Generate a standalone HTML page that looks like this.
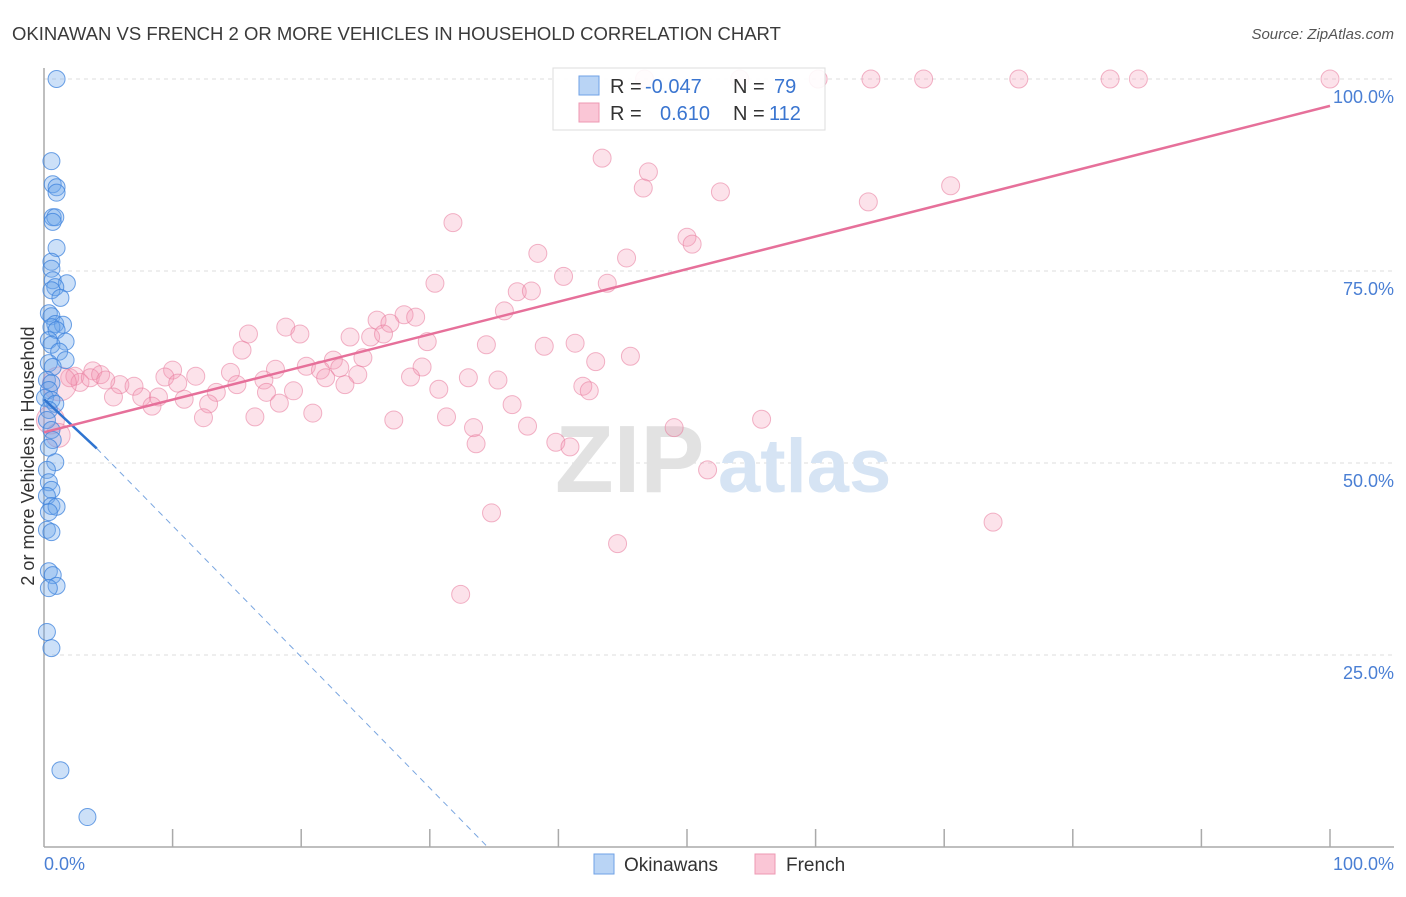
<!DOCTYPE html>
<html><head><meta charset="utf-8"><style>
body{margin:0;background:#fff;font-family:"Liberation Sans",sans-serif}
svg text{font-family:"Liberation Sans",sans-serif}
</style></head><body>
<svg id="chart" width="1406" height="892" xmlns="http://www.w3.org/2000/svg">
<text x="12" y="40" font-size="18.5" fill="#3a3a3a">OKINAWAN VS FRENCH 2 OR MORE VEHICLES IN HOUSEHOLD CORRELATION CHART</text>
<text x="1394" y="39" font-size="15" fill="#555" text-anchor="end" font-style="italic">Source: ZipAtlas.com</text>
<g id="grid"></g>
<g>
<text x="555" y="492" font-size="96" fill="#e2e2e2" font-family="Liberation Serif" font-weight="bold">ZIP</text>
<text x="718" y="492" font-size="76" fill="#d6e4f4" font-weight="bold">atlas</text>
</g>
<line x1="44" y1="68" x2="44" y2="847" stroke="#aaa" stroke-width="1.5"/>
<line x1="44" y1="847" x2="1394" y2="847" stroke="#aaa" stroke-width="1.5"/>
<g id="ticks"></g>
<g id="pts"></g>
<g id="trends"></g>
<text transform="translate(34,456) rotate(-90)" font-size="18" fill="#333" text-anchor="middle">2 or more Vehicles in Household</text>
<text x="44" y="870" font-size="18" fill="#4a7fd4">0.0%</text>
<text x="1394" y="870" font-size="18" fill="#4a7fd4" text-anchor="end">100.0%</text>
<g>
<rect x="553" y="68" width="272" height="62" fill="rgba(255,255,255,0.9)" stroke="#ddd"/>
<rect x="579" y="76" width="20" height="19" fill="#b9d4f5" stroke="#6fa2e6"/>
<rect x="579" y="103" width="20" height="19" fill="#fac6d6" stroke="#ee98b3"/>
<text x="610" y="93" font-size="20" fill="#333">R = <tspan fill="#3a75d0" x="645">-0.047</tspan></text>
<text x="733" y="93" font-size="20" fill="#333">N = <tspan fill="#3a75d0" x="774">79</tspan></text>
<text x="610" y="120" font-size="20" fill="#333">R = <tspan fill="#3a75d0" x="660">0.610</tspan></text>
<text x="733" y="120" font-size="20" fill="#333">N = <tspan fill="#3a75d0" x="769">112</tspan></text>
</g>
<g>
<rect x="594" y="854" width="20" height="20" fill="#b9d4f5" stroke="#6fa2e6"/>
<text x="624" y="871" font-size="19" fill="#333">Okinawans</text>
<rect x="755" y="854" width="20" height="20" fill="#fac6d6" stroke="#ee98b3"/>
<text x="786" y="871" font-size="19" fill="#333">French</text>
</g>
</svg>
<script>
const yTicks=[25,50,75,100];
const yTickLabels=["25.0%","50.0%","75.0%","100.0%"];
const xTicks=[10,20,30,40,50,60,70,80,90,100];
const blueX=[0.9,0.5,0.6,0.9,0.9,0.6,0.8,0.6,0.9,0.5,0.5,0.6,1.7,0.8,0.5,1.2,0.3,0.5,0.8,1.4,0.5,0.9,0.3,1.6,0.5,1.1,1.6,0.3,0.6,0.15,0.5,0.3,0,0.5,0.8,0.3,0.15,0.5,0.6,0.3,0.8,0.15,0.3,0.5,0.15,0.5,0.9,0.3,0.15,0.5,0.3,0.6,0.9,0.3,0.15,0.5,1.2,3.3];
const blueY=[100,89.3,86.3,85.9,85.2,82.0,82.0,81.4,78.0,76.2,75.3,73.8,73.4,72.9,72.5,71.5,69.5,69.1,68.1,68.0,67.7,67.3,66.0,65.8,65.4,64.5,63.4,63.0,62.5,60.8,60.4,59.5,58.5,58.2,57.7,56.9,55.6,54.3,53.0,52.0,50.1,49.1,47.5,46.5,45.7,44.4,44.3,43.6,41.3,41.0,35.9,35.4,34.0,33.7,28.0,25.9,10.0,3.9];
const pinkX=[46.7,54.1,60.2,64.3,68.4,75.8,82.9,85.1,100,43.4,47.0,46.6,52.6,70.5,64.1,31.8,50.0,50.4,38.4,45.3,40.4,30.4,43.8,36.8,37.9,35.8,25.9,28.0,28.9,26.9,15.9,18.8,19.9,23.8,25.4,26.4,29.8,34.4,38.9,41.3,15.4,45.6,24.8,22.5,42.9,20.4,21.5,23.0,29.4,3.8,10.0,11.8,14.5,18.0,21.9,24.4,28.5,33.0,35.3,17.1,5.9,7.0,9.4,10.4,15.0,23.4,41.9,42.4,30.7,19.4,13.4,5.4,7.6,8.9,10.9,17.3,18.3,12.8,8.4,36.4,27.2,12.4,16.4,20.9,31.3,33.4,37.6,55.8,49.0,33.6,39.8,40.9,51.6,73.8,34.8,44.6,32.4,2.0,2.4,2.8,3.6,4.4,4.8];
const pinkY=[100,100,100,100,100,100,100,100,100,89.7,87.9,85.8,85.3,86.1,84.0,81.3,79.4,78.5,77.3,76.7,74.3,73.4,73.4,72.3,72.4,69.8,68.6,69.3,69.0,68.2,66.8,67.7,66.8,66.4,66.4,66.8,65.8,65.4,65.2,65.6,64.7,63.9,63.7,63.4,63.2,62.6,62.1,62.4,62.5,62.0,62.1,61.3,61.8,62.2,61.1,61.5,61.2,61.1,60.8,60.8,60.2,60.0,61.2,60.4,60.2,60.2,60.0,59.4,59.6,59.4,59.2,58.6,58.6,58.6,58.3,59.2,57.8,57.7,57.4,57.6,55.6,55.9,56.0,56.5,56.0,54.6,54.8,55.7,54.6,52.5,52.7,52.1,49.1,42.3,43.5,39.5,32.9,61.1,61.3,60.5,61.1,61.5,60.8];
const bigPinkX=[1.2,0.5,1.1];
const bigPinkY=[60.3,55.6,53.6];
const bigPinkR=[17,14,12];
const blueTrend=[[0,58.3],[4.1,51.9],[34.5,0]];
const pinkTrend=[[0,54.0],[100,96.5]];
const NS="http://www.w3.org/2000/svg";
const X=v=>44+v*12.86, Y=v=>847-v*7.68;
function mk(tag,attrs,parent){const e=document.createElementNS(NS,tag);for(const k in attrs)e.setAttribute(k,attrs[k]);parent.appendChild(e);return e;}
const grid=document.getElementById('grid');
yTicks.forEach((t,i)=>{
 const l=mk('line',{x1:44,x2:1394,y1:Y(t),y2:Y(t),stroke:'#ddd','stroke-dasharray':'4 4'},grid);
 
 
 const tx=mk('text',{x:1394,y:Y(t)+24,'font-size':18,fill:'#4a7fd4','text-anchor':'end'},grid);
 
 
 tx.textContent=yTickLabels[i];
});
const ticks=document.getElementById('ticks');
xTicks.forEach(t=>{
 const l=mk('line',{x1:X(t),x2:X(t),y1:829,y2:847,stroke:'#aaa','stroke-width':1.5},ticks);
 
 
});
const pts=document.getElementById('pts');
pinkX.forEach((x,i)=>{
 const c=mk('circle',{cx:X(x),cy:Y(pinkY[i]),r:9,fill:'rgba(244,150,180,0.28)',stroke:'rgba(232,120,155,0.55)','stroke-width':1},pts);
 
 
});
bigPinkX.forEach((x,i)=>{
 const c=mk('circle',{cx:X(x),cy:Y(bigPinkY[i]),r:bigPinkR[i],fill:'rgba(244,150,180,0.28)',stroke:'rgba(232,120,155,0.55)','stroke-width':1},pts);
 
 
});
blueX.forEach((x,i)=>{
 const c=mk('circle',{cx:X(x)+1,cy:Y(blueY[i]),r:8.5,fill:'rgba(110,165,235,0.35)',stroke:'rgba(60,130,220,0.75)','stroke-width':1},pts);
 
 
});
const tr=document.getElementById('trends');
let l=mk('line',{x1:X(blueTrend[0][0]),y1:Y(blueTrend[0][1]),x2:X(blueTrend[1][0]),y2:Y(blueTrend[1][1]),stroke:'#2f74d0','stroke-width':2.5},tr);


l=mk('line',{x1:X(blueTrend[1][0]),y1:Y(blueTrend[1][1]),x2:X(blueTrend[2][0]),y2:Y(blueTrend[2][1]),stroke:'#7aa6e0','stroke-width':1,'stroke-dasharray':'6 5'},tr);


l=mk('line',{x1:X(pinkTrend[0][0]),y1:Y(pinkTrend[0][1]),x2:X(pinkTrend[1][0]),y2:Y(pinkTrend[1][1]),stroke:'#e6709a','stroke-width':2.5},tr);


</script>
</body></html>
